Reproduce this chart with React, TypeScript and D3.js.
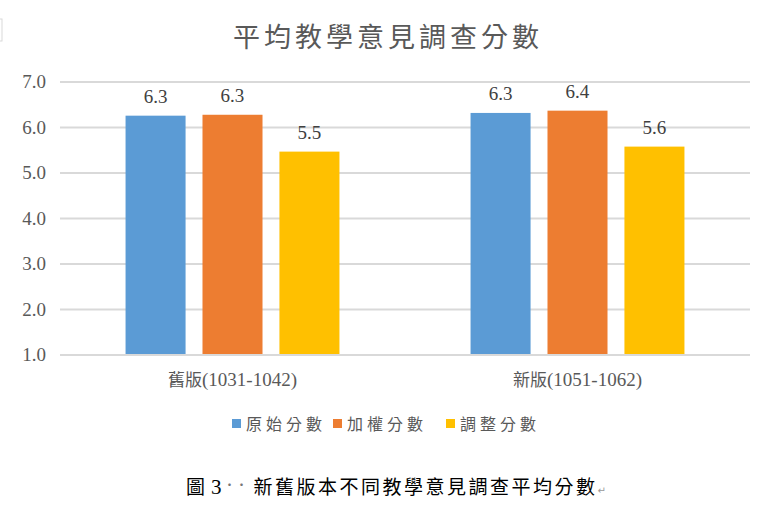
import React from 'react';
import * as d3 from 'd3';

// chart data
const categories = ['舊版(1031-1042)', '新版(1051-1062)'];
const seriesNames = ['原始分數', '加權分數', '調整分數'];
const seriesColors = ['#5B9BD5', '#ED7D31', '#FFC000'];
const rawScores = [6.26, 6.32];
const weightedScores = [6.28, 6.37];
const adjustedScores = [5.47, 5.58];
const yTicks = [1, 2, 3, 4, 5, 6, 7];

const title = '平均教學意見調查分數';
const caption = '新舊版本不同教學意見調查平均分數';

const W = 762;
const H = 516;
const serif = '"Liberation Serif", "Times New Roman", Tinos, "DejaVu Serif", serif';
const cjk = '"Noto Sans CJK TC", "Noto Sans CJK SC", sans-serif';

// split a label into its CJK head and latin tail so each gets its own font
const splitLabel = (s: string) => {
  const i = s.indexOf('(');
  return i < 0 ? [s, ''] : [s.slice(0, i), s.slice(i)];
};

const App: React.FC = () => {
  const series = [rawScores, weightedScores, adjustedScores];

  // scales
  const x0 = d3.scaleBand<string>().domain(categories).range([60, 750]).paddingInner(0.38).paddingOuter(0.19);
  const x1 = d3.scaleBand<string>().domain(seriesNames).range([0, x0.bandwidth()]).paddingInner(0.22).paddingOuter(0);
  const y = d3.scaleLinear().domain([1, 7]).range([355, 82]);
  const fmt = d3.format('.1f');

  // legend layout
  const legendX = [232, 333, 446];

  return (
    <svg width={W} height={H} style={{ position: 'absolute', left: 0, top: 0, background: '#fff' }}>
      <rect x={-2} y={19} width={4} height={22} fill="none" stroke="#d9d9d9" />

      <text x={388} y={47} textAnchor="middle" fontFamily={cjk} fontSize={27} letterSpacing={4} fill="#595959">
        {title}
      </text>

      {/* grid + y ticks */}
      {yTicks.map(t => (
        <g key={t}>
          <line x1={60} x2={750} y1={y(t)} y2={y(t)} stroke="#d9d9d9" strokeWidth={2} />
          <text x={46} y={y(t) + 6} textAnchor="end" fontFamily={serif} fontSize={19} fill="#595959">
            {fmt(t)}
          </text>
        </g>
      ))}

      {/* bars */}
      {categories.map((c, ci) => {
        const [head, tail] = splitLabel(c);
        return (
          <g key={c} transform={`translate(${x0(c)},0)`}>
            {seriesNames.map((s, si) => {
              const v = series[si][ci];
              const bx = x1(s) as number;
              return (
                <g key={s}>
                  <rect x={bx} y={y(v)} width={x1.bandwidth()} height={y(1) - y(v) - 1} fill={seriesColors[si]} />
                  <text
                    x={bx + x1.bandwidth() / 2}
                    y={y(v) - 13}
                    textAnchor="middle"
                    fontFamily={serif}
                    fontSize={19}
                    fill="#404040"
                  >
                    {fmt(v)}
                  </text>
                </g>
              );
            })}
            <text x={x0.bandwidth() / 2} y={386} textAnchor="middle" fontSize={19} fill="#595959">
              <tspan fontFamily={cjk} fontSize={17}>{head}</tspan>
              <tspan fontFamily={serif}>{tail}</tspan>
            </text>
          </g>
        );
      })}

      {/* legend */}
      {seriesNames.map((s, i) => (
        <g key={s} transform={`translate(${legendX[i]},0)`}>
          <rect x={0} y={419} width={9} height={9} fill={seriesColors[i]} />
          <text x={14} y={430} fontFamily={cjk} fontSize={16} letterSpacing={4} fill="#595959">
            {s}
          </text>
        </g>
      ))}

      {/* figure caption */}
      <text x={186} y={494} fontFamily={cjk} fontSize={19} fill="#000">
        圖
        <tspan dx={6} fontFamily={serif} fontSize={21}>3</tspan>
        <tspan dx={2} fill="#777" fontSize={12} dy={-4}>··</tspan>
        <tspan dx={6} dy={4} letterSpacing={2.5}>{caption}</tspan>
        <tspan fill="#999" fontSize={10} fontFamily='"DejaVu Sans", sans-serif'>↵</tspan>
      </text>
    </svg>
  );
};

export default App;
